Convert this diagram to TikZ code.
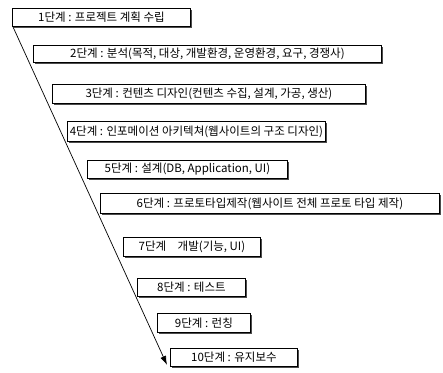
\documentclass[tikz,border=0pt]{standalone}
\usepackage{fontspec}
\setmainfont{Noto Sans CJK KR}
\usetikzlibrary{arrows.meta,calc,shadows}
\begin{document}
\begin{tikzpicture}[x=1pt,y=-1pt,
  stage/.style={draw=black, line width=0.9pt, fill=white, inner sep=0pt,
    anchor=north west, font=\fontsize{11.5}{13}\selectfont,
    drop shadow={shadow xshift=1.2pt, shadow yshift=-1.2pt, fill=black!70, opacity=1}},
  flow/.style={line width=0.7pt, -{Latex[length=9pt,width=6pt]}}]
\useasboundingbox (0,0) rectangle (443,372);
\node[stage, minimum width=178, minimum height=18] (b1) at (12,8) {1단계 : 프로젝트 계획 수립};
\node[stage, minimum width=348, minimum height=17] (b2) at (33,45) {2단계 : 분석(목적, 대상, 개발환경, 운영환경, 요구, 경쟁사)};
\node[stage, minimum width=313, minimum height=19] (b3) at (52,84) {3단계 : 컨텐츠 디자인(컨텐츠 수집, 설계, 가공, 생산)};
\node[stage, minimum width=258, minimum height=20] (b4) at (67,121) {4단계 : 인포메이션 아키텍쳐(웹사이트의 구조 디자인)};
\node[stage, minimum width=200, minimum height=18] (b5) at (87,160) {5단계 : 설계(DB, Application, UI)};
\node[stage, minimum width=339, minimum height=20] (b6) at (100,193) {6단계 : 프로토타입제작(웹사이트 전체 프로토 타입 제작)};
\node[stage, minimum width=137, minimum height=19] (b7) at (123,237) {7단계\quad 개발(기능, UI)};
\node[stage, minimum width=108, minimum height=18] (b8) at (137,278) {8단계 : 테스트};
\node[stage, minimum width=93, minimum height=19] (b9) at (157,313) {9단계 : 런칭};
\node[stage, minimum width=127, minimum height=18] (b10) at (170,348) {10단계 : 유지보수};
\coordinate (tip) at ($(b10.south west)+(-3,-2)$);
\draw[flow] ($(b1.south west)+(1,0)$) -- (tip);
\end{tikzpicture}
\end{document}
